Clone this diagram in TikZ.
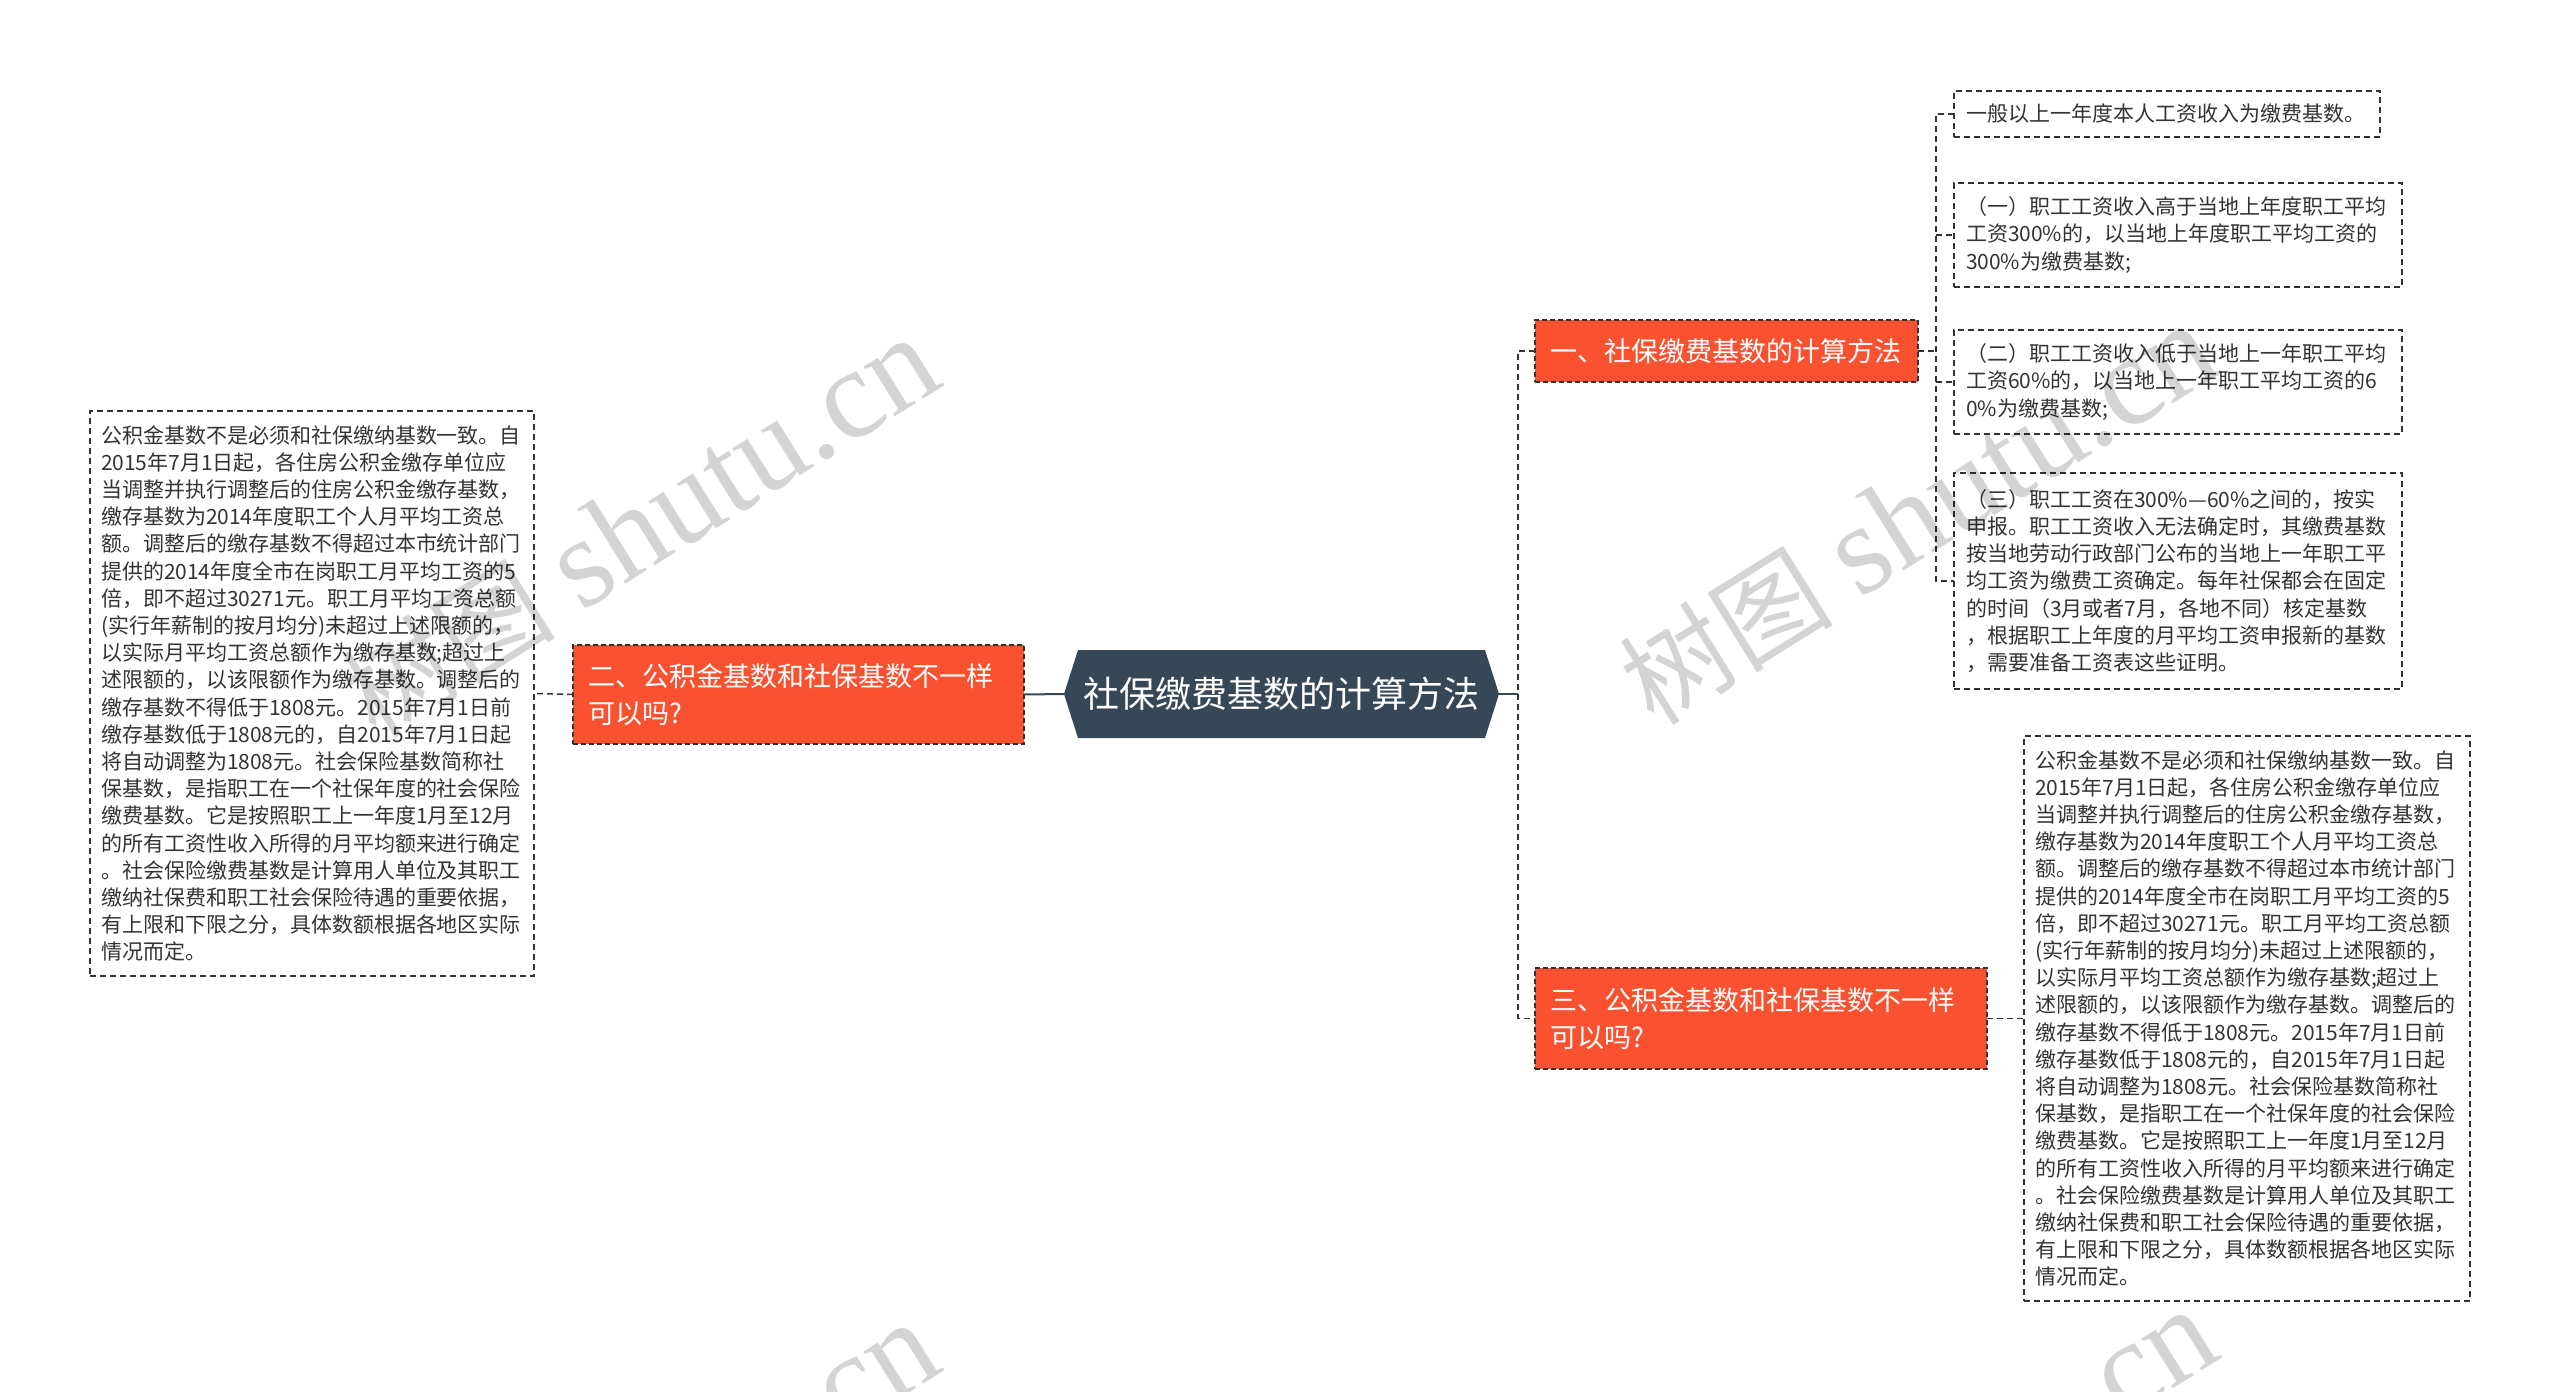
\documentclass[tikz,border=0pt]{standalone}
\usepackage{fontspec}
\setmainfont{Noto Sans CJK SC}
\newfontfamily\wmserif{Liberation Serif}
\usetikzlibrary{backgrounds}
\definecolor{orangebox}{HTML}{FA5230}
\definecolor{hexcol}{HTML}{364757}
\definecolor{linecol}{HTML}{333333}
\definecolor{txtcol}{HTML}{333333}
\newcommand{\wmtext}{{\fontsize{107pt}{107pt}\selectfont 树图}\hspace{28pt}{\wmserif\fontsize{128pt}{128pt}\selectfont shutu.cn}}
\begin{document}
\begin{tikzpicture}[x=1pt,y=-1pt,
  dashline/.style={draw=linecol, line width=1.5pt, dash pattern=on 6pt off 4pt},
  solidline/.style={draw=hexcol, line width=2pt},
  leafbox/.style={draw=linecol, line width=1.5pt, dash pattern=on 6pt off 4pt, fill=white, text=txtcol,
    align=left, inner xsep=12pt, inner ysep=0pt, outer sep=0pt, anchor=north west,
    font=\fontsize{21pt}{27.2pt}\selectfont},
  topicbox/.style={fill=orangebox, draw=linecol, line width=1.2pt, dash pattern=on 5pt off 3pt,
    text=white, align=left, inner xsep=15pt, inner ysep=0pt, outer sep=0pt, anchor=north west,
    font=\fontsize{27pt}{37.5pt}\selectfont},
  centerbox/.style={text=white, inner sep=0pt, outer sep=0pt, minimum width=435pt, minimum height=88pt,
    font=\fontsize{36pt}{40pt}\selectfont},
  wmark/.style={text=black, text opacity=0.17, rotate=32, inner sep=0pt}
]
\begin{scope}[on background layer]
\fill[white] (0,0) rectangle (2560,1392);
\end{scope}
\useasboundingbox (0,0) rectangle (2560,1392);

% center
\node[centerbox] (c) at (1281.5,694) {社保缴费基数的计算方法};
\begin{scope}[on background layer]
\fill[hexcol] ([xshift=14pt]c.north west) -- ([xshift=-14pt]c.north east) -- (c.east)
  -- ([xshift=-14pt]c.south east) -- ([xshift=14pt]c.south west) -- (c.west) -- cycle;
\end{scope}

% topics
\node[topicbox, minimum width=383pt, minimum height=62pt, text width=353pt] (o1) at (1535,320)
  {一、社保缴费基数的计算方法};
\node[topicbox, minimum width=451pt, minimum height=99pt, text width=421pt] (o2) at (573,645)
  {二、公积金基数和社保基数不一样\\可以吗?};
\node[topicbox, minimum width=452pt, minimum height=101pt, text width=422pt] (o3) at (1535,968)
  {三、公积金基数和社保基数不一样\\可以吗?};

% left leaf
\node[leafbox, inner xsep=11pt, minimum width=444pt, minimum height=565pt, text width=422pt] (lb) at (90,411)
  {公积金基数不是必须和社保缴纳基数一致。自\\
   2015年7月1日起，各住房公积金缴存单位应\\
   当调整并执行调整后的住房公积金缴存基数，\\
   缴存基数为2014年度职工个人月平均工资总\\
   额。调整后的缴存基数不得超过本市统计部门\\
   提供的2014年度全市在岗职工月平均工资的5\\
   倍，即不超过30271元。职工月平均工资总额\\
   (实行年薪制的按月均分)未超过上述限额的，\\
   以实际月平均工资总额作为缴存基数;超过上\\
   述限额的，以该限额作为缴存基数。调整后的\\
   缴存基数不得低于1808元。2015年7月1日前\\
   缴存基数低于1808元的，自2015年7月1日起\\
   将自动调整为1808元。社会保险基数简称社\\
   保基数，是指职工在一个社保年度的社会保险\\
   缴费基数。它是按照职工上一年度1月至12月\\
   的所有工资性收入所得的月平均额来进行确定\\
   。社会保险缴费基数是计算用人单位及其职工\\
   缴纳社保费和职工社会保险待遇的重要依据，\\
   有上限和下限之分，具体数额根据各地区实际\\
   情况而定。};

% right leaves of topic 1
\node[leafbox, minimum width=426pt, minimum height=46pt, text width=402pt] (b1) at (1954,91)
  {一般以上一年度本人工资收入为缴费基数。};
\node[leafbox, minimum width=448pt, minimum height=104pt, text width=424pt] (b2) at (1954,183)
  {（一）职工工资收入高于当地上年度职工平均\\
   工资300\%的，以当地上年度职工平均工资的\\
   300\%为缴费基数;};
\node[leafbox, minimum width=448pt, minimum height=104pt, text width=424pt] (b3) at (1954,330)
  {（二）职工工资收入低于当地上一年职工平均\\
   工资60\%的，以当地上一年职工平均工资的6\\
   0\%为缴费基数;};
\node[leafbox, minimum width=448pt, minimum height=216pt, text width=424pt] (b4) at (1954,473)
  {（三）职工工资在300\%—60\%之间的，按实\\
   申报。职工工资收入无法确定时，其缴费基数\\
   按当地劳动行政部门公布的当地上一年职工平\\
   均工资为缴费工资确定。每年社保都会在固定\\
   的时间（3月或者7月，各地不同）核定基数\\
   ，根据职工上年度的月平均工资申报新的基数\\
   ，需要准备工资表这些证明。};

% right leaf of topic 3
\node[leafbox, inner xsep=11pt, minimum width=446pt, minimum height=565pt, text width=424pt] (b5) at (2024,736)
  {公积金基数不是必须和社保缴纳基数一致。自\\
   2015年7月1日起，各住房公积金缴存单位应\\
   当调整并执行调整后的住房公积金缴存基数，\\
   缴存基数为2014年度职工个人月平均工资总\\
   额。调整后的缴存基数不得超过本市统计部门\\
   提供的2014年度全市在岗职工月平均工资的5\\
   倍，即不超过30271元。职工月平均工资总额\\
   (实行年薪制的按月均分)未超过上述限额的，\\
   以实际月平均工资总额作为缴存基数;超过上\\
   述限额的，以该限额作为缴存基数。调整后的\\
   缴存基数不得低于1808元。2015年7月1日前\\
   缴存基数低于1808元的，自2015年7月1日起\\
   将自动调整为1808元。社会保险基数简称社\\
   保基数，是指职工在一个社保年度的社会保险\\
   缴费基数。它是按照职工上一年度1月至12月\\
   的所有工资性收入所得的月平均额来进行确定\\
   。社会保险缴费基数是计算用人单位及其职工\\
   缴纳社保费和职工社会保险待遇的重要依据，\\
   有上限和下限之分，具体数额根据各地区实际\\
   情况而定。};

% connectors
\coordinate (jc) at (1518,694);
\coordinate (j1) at (1936,351);
\draw[solidline] (c.east) -- (jc);
\draw[dashline] (o1.west) -| (jc) |- (o3.west);
\draw[solidline] (c.west) -- (o2.east);
\draw[dashline] (o2.west) -- (lb.east);
\draw[dashline] (o1.east) -- (j1);
\draw[dashline] (b1.west) -| (j1) |- (b4.west);
\draw[dashline] (b2.west -| j1) -- (b2.west);
\draw[dashline] (b3.west -| j1) -- (b3.west);
\draw[dashline] (o3.east) -- (b5.west);

% watermarks
\node[wmark] (w1) at (640,528) {\wmtext};
\node[wmark] (w2) at (1918,515) {\wmtext};
\node[wmark] (w3) at (640,1513) {\wmtext};
\node[wmark] (w4) at (1918,1500) {\wmtext};
\end{tikzpicture}
\end{document}
